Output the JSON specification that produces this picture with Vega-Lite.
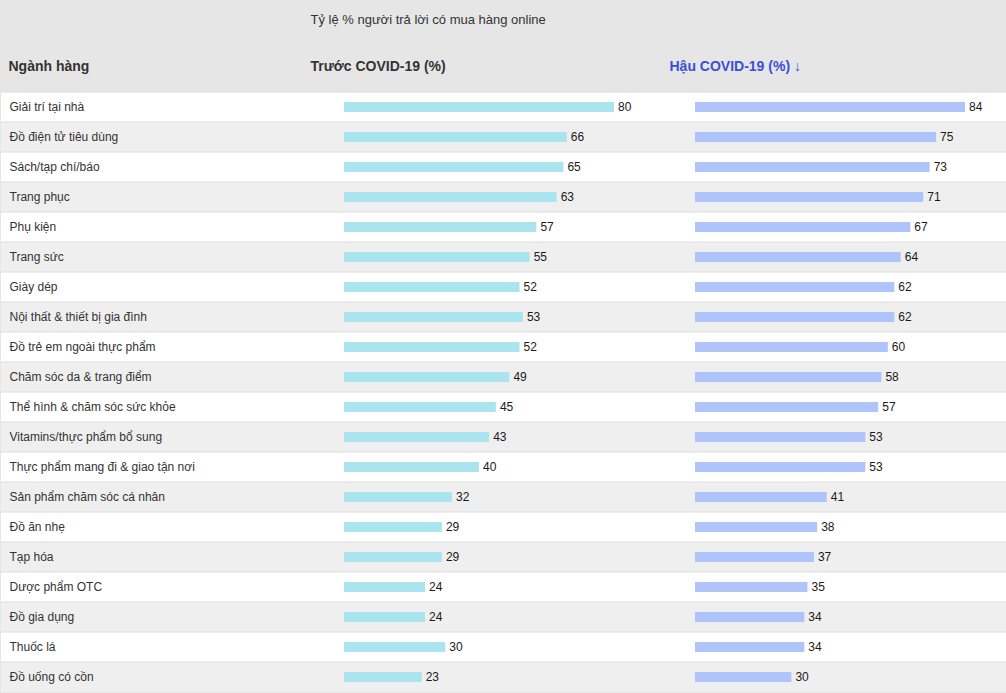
{
  "$schema": "https://vega.github.io/schema/vega-lite/v6.json",
  "background": "#e6e6e6",
  "padding": {"top": 13, "left": 0, "right": 0, "bottom": 1},
  "autosize": {"type": "pad"},
  "spacing": 0,
  "bounds": "flush",
  "config": {"font": "Liberation Sans", "view": {"stroke": null}},
  "data": {"values": [
    {"cat": "Giải trí tại nhà", "truoc": 80, "hau": 84},
    {"cat": "Đồ điện tử tiêu dùng", "truoc": 66, "hau": 75},
    {"cat": "Sách/tạp chí/báo", "truoc": 65, "hau": 73},
    {"cat": "Trang phục", "truoc": 63, "hau": 71},
    {"cat": "Phụ kiện", "truoc": 57, "hau": 67},
    {"cat": "Trang sức", "truoc": 55, "hau": 64},
    {"cat": "Giày dép", "truoc": 52, "hau": 62},
    {"cat": "Nội thất & thiết bị gia đình", "truoc": 53, "hau": 62},
    {"cat": "Đồ trẻ em ngoài thực phẩm", "truoc": 52, "hau": 60},
    {"cat": "Chăm sóc da & trang điểm", "truoc": 49, "hau": 58},
    {"cat": "Thể hình & chăm sóc sức khỏe", "truoc": 45, "hau": 57},
    {"cat": "Vitamins/thực phẩm bổ sung", "truoc": 43, "hau": 53},
    {"cat": "Thực phẩm mang đi & giao tận nơi", "truoc": 40, "hau": 53},
    {"cat": "Sản phẩm chăm sóc cá nhân", "truoc": 32, "hau": 41},
    {"cat": "Đồ ăn nhẹ", "truoc": 29, "hau": 38},
    {"cat": "Tạp hóa", "truoc": 29, "hau": 37},
    {"cat": "Dược phẩm OTC", "truoc": 24, "hau": 35},
    {"cat": "Đồ gia dụng", "truoc": 24, "hau": 34},
    {"cat": "Thuốc lá", "truoc": 30, "hau": 34},
    {"cat": "Đồ uống có cồn", "truoc": 23, "hau": 30}
  ]},
  "transform": [{"window": [{"op": "row_number", "as": "idx"}]}],
  "hconcat": [
    {
      "width": 301, "height": 600,
      "title": {"text": "Ngành hàng", "anchor": "start", "dx": 8, "offset": 18, "fontSize": 14, "fontWeight": "bold", "color": "#333333"},
      "layer": [
        {"mark": {"type": "rect"}, "encoding": {
          "y": {"field": "cat", "type": "nominal", "sort": null, "scale": {"paddingInner": 0, "paddingOuter": 0},
            "axis": {"orient": "left", "labelAlign": "left", "labelPadding": -8, "tickSize": 0, "ticks": false, "domain": false, "grid": false, "title": null, "labelFontSize": 12, "labelColor": "#333333", "zindex": 1, "labelLimit": 0, "labelBaseline": "middle"}},
          "fill": {"condition": {"test": "datum.idx % 2 === 0", "value": "#efefef"}, "value": "#ffffff"}}},
        {"mark": {"type": "rule", "color": "#dddddd", "strokeWidth": 1}, "encoding": {
          "y": {"field": "cat", "type": "nominal", "sort": null, "bandPosition": 0}}}
      ]
    },
    {
      "width": 359, "height": 600,
      "title": {"text": "Tỷ lệ % người trả lời có mua hàng online", "subtitle": "Trước COVID-19 (%)", "anchor": "start", "dx": 9, "offset": 18, "fontSize": 13, "fontWeight": "normal", "color": "#333333", "subtitleFontSize": 14, "subtitleFontWeight": "bold", "subtitleColor": "#333333", "subtitlePadding": 33},
      "layer": [
        {"mark": {"type": "rect"}, "encoding": {
          "y": {"field": "cat", "type": "nominal", "sort": null, "scale": {"paddingInner": 0, "paddingOuter": 0}, "axis": null},
          "fill": {"condition": {"test": "datum.idx % 2 === 0", "value": "#efefef"}, "value": "#ffffff"}}},
        {"mark": {"type": "rule", "color": "#dddddd", "strokeWidth": 1}, "encoding": {
          "y": {"field": "cat", "type": "nominal", "sort": null, "bandPosition": 0}}},
        {"mark": {"type": "bar", "size": 10, "color": "#aae4ee"}, "encoding": {
          "y": {"field": "cat", "type": "nominal", "sort": null},
          "x": {"field": "truoc", "type": "quantitative", "scale": {"domain": [0, 80], "nice": false, "range": [42, 312]}, "axis": null}}},
        {"mark": {"type": "text", "align": "left", "baseline": "middle", "dx": 4, "fontSize": 12, "color": "#1a1a1a"}, "encoding": {
          "y": {"field": "cat", "type": "nominal", "sort": null},
          "x": {"field": "truoc", "type": "quantitative"},
          "text": {"field": "truoc"}}}
      ]
    },
    {
      "width": 346, "height": 600,
      "title": {"text": "Hậu COVID-19 (%)  ↓", "anchor": "start", "dx": 9, "offset": 18, "fontSize": 14, "fontWeight": "bold", "color": "#3b4fd8"},
      "layer": [
        {"mark": {"type": "rect"}, "encoding": {
          "y": {"field": "cat", "type": "nominal", "sort": null, "scale": {"paddingInner": 0, "paddingOuter": 0}, "axis": null},
          "fill": {"condition": {"test": "datum.idx % 2 === 0", "value": "#efefef"}, "value": "#ffffff"}}},
        {"mark": {"type": "rule", "color": "#dddddd", "strokeWidth": 1}, "encoding": {
          "y": {"field": "cat", "type": "nominal", "sort": null, "bandPosition": 0}}},
        {"mark": {"type": "bar", "size": 10, "color": "#aec4fa"}, "encoding": {
          "y": {"field": "cat", "type": "nominal", "sort": null},
          "x": {"field": "hau", "type": "quantitative", "scale": {"domain": [0, 84], "nice": false, "range": [34, 304]}, "axis": null}}},
        {"mark": {"type": "text", "align": "left", "baseline": "middle", "dx": 4, "fontSize": 12, "color": "#1a1a1a"}, "encoding": {
          "y": {"field": "cat", "type": "nominal", "sort": null},
          "x": {"field": "hau", "type": "quantitative"},
          "text": {"field": "hau"}}}
      ]
    }
  ]
}
